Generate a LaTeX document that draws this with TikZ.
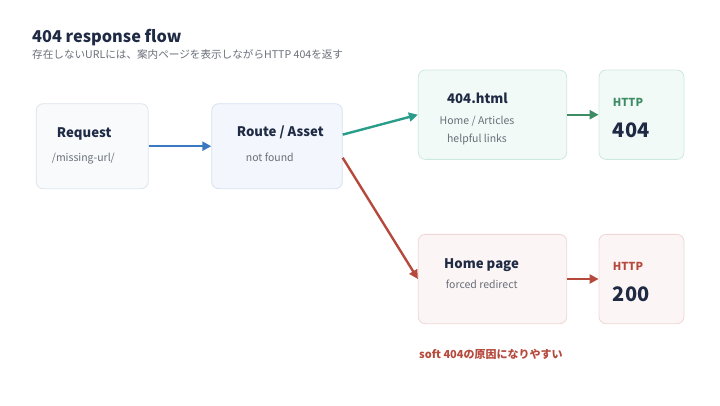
\documentclass[tikz,border=0pt]{standalone}
\usepackage{fontspec}
\setmainfont{Noto Sans CJK JP}
\usetikzlibrary{arrows.meta}
\definecolor{rfnavy}{RGB}{31,42,68}
\definecolor{rfgray}{RGB}{105,110,120}
\definecolor{rfblue}{RGB}{58,120,194}
\definecolor{rfteal}{RGB}{42,157,138}
\definecolor{rfgreen}{RGB}{61,140,102}
\definecolor{rfred}{RGB}{181,73,60}
\definecolor{rfcardfill}{RGB}{248,250,252}
\definecolor{rfcardline}{RGB}{221,228,236}
\definecolor{rfbluefill}{RGB}{243,247,253}
\definecolor{rfblueline}{RGB}{214,225,238}
\definecolor{rfgreenfill}{RGB}{242,250,247}
\definecolor{rfgreenline}{RGB}{205,233,223}
\definecolor{rfredfill}{RGB}{252,245,245}
\definecolor{rfredline}{RGB}{240,214,212}
\tikzstyle{arrow} = [line width=2.4pt,-{Triangle[length=9pt,width=9pt]}]
\tikzstyle{card} = [rectangle, rounded corners=7pt, inner sep=0pt, line width=0.8pt, draw=rfcardline, fill=rfcardfill]
\tikzstyle{heading} = [anchor=base west, inner sep=0pt, font=\fontsize{13.2}{16}\selectfont\bfseries, text=rfnavy]
\tikzstyle{note} = [anchor=base west, inner sep=0pt, font=\fontsize{10.5}{12}\selectfont, text=rfgray]
\tikzstyle{proto} = [anchor=base west, inner sep=0pt, font=\fontsize{11}{13}\selectfont\bfseries]
\tikzstyle{status} = [anchor=base west, inner sep=0pt, font=\fontsize{20}{24}\selectfont\bfseries, text=rfnavy]

\begin{document}
\begin{tikzpicture}[x=1pt,y=-1pt]
\useasboundingbox (0,0) rectangle (720,405);

% Title
\node[anchor=base west, inner sep=0pt, font=\fontsize{16.3}{20}\selectfont\bfseries, text=rfnavy] (title) at (32,42) {404 response flow};
\node[anchor=base west, inner sep=0pt, font=\fontsize{10.6}{13}\selectfont, text=rfgray] (subtitle) at (32,58.5) {存在しないURLには、案内ページを表示しながらHTTP 404を返す};

% Cards
\node[card, minimum width=112pt, minimum height=85pt] (req) at (92.2,146.2) {};
\node[card, draw=rfblueline, fill=rfbluefill, minimum width=130.6pt, minimum height=85pt] (route) at (277,146.2) {};
\node[card, draw=rfgreenline, fill=rfgreenfill, minimum width=148.4pt, minimum height=89.3pt] (page) at (492.5,114.7) {};
\node[card, draw=rfgreenline, fill=rfgreenfill, minimum width=85pt, minimum height=89.3pt] (code404) at (641.5,114.7) {};
\node[card, draw=rfredline, fill=rfredfill, minimum width=148.4pt, minimum height=89.3pt] (home) at (492.5,279) {};
\node[card, draw=rfredline, fill=rfredfill, minimum width=85pt, minimum height=89.3pt] (code200) at (641.5,279) {};

% Card texts
\node[heading] (reqname) at (56.7,137) {Request};
\node[note] (reqpath) at (51.7,161) {/missing-url/};
\node[heading] (routename) at (236.7,136.7) {Route / Asset};
\node[note] (routenote) at (245.7,161) {not found};
\node[heading, anchor=base] (pagename) at (477.5,103.3) {404.html};
\node[note, anchor=base] (pagenav) at (477,124.3) {Home / Articles};
\node[note, anchor=base] (pagelinks) at (477,142) {helpful links};
\node[proto, text=rfgreen] (http404) at (612.7,106.3) {HTTP};
\node[status] (num404) at (612.7,137.3) {404};
\node[heading] (homename) at (444,268.3) {Home page};
\node[note] (homenote) at (445.7,288.3) {forced redirect};
\node[proto, text=rfred] (http200) at (612.7,270.7) {HTTP};
\node[status] (num200) at (612.7,301.7) {200};

% Connections
\draw[arrow, rfblue] (req.east) -- (route.west);
\draw[arrow, rfteal] (route.10) -- (page.west);
\draw[arrow, rfred] (route.-10) -- (home.west);
\draw[arrow, rfgreen] (page.east) -- (code404.west);
\draw[arrow, rfred] (home.east) -- (code200.west);

% Warning
\node[proto, text=rfred] (soft) at (419,358.3) {soft 404の原因になりやすい};
\end{tikzpicture}
\end{document}
